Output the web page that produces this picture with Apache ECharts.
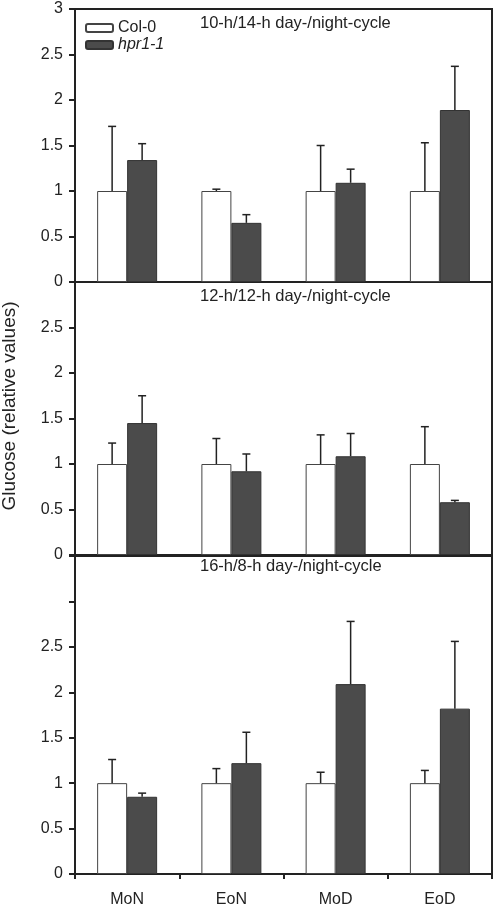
<!DOCTYPE html>
<html>
<head>
<meta charset="utf-8">
<script src="https://cdn.jsdelivr.net/npm/echarts@6/dist/echarts.min.js"></script>
<style>html,body{margin:0;padding:0;background:#fff}#c{width:498px;height:908px}</style>
</head>
<body>
<div id="c"></div>
<script>
// ---- data ----
const categories = ['MoN', 'EoN', 'MoD', 'EoD'];
const seriesNames = ['Col-0', 'hpr1-1'];
const panelTitles = ['10-h/14-h day-/night-cycle', '12-h/12-h day-/night-cycle', '16-h/8-h day-/night-cycle'];
const yTickLabels1 = ['0', '0.5', '1', '1.5', '2', '2.5', '3'];
const yTickLabels2 = ['0', '0.5', '1', '1.5', '2', '2.5'];
const yTickLabels3 = ['0', '0.5', '1', '1.5', '2', '2.5'];

// 10-h/14-h
const col10 = [1, 1, 1, 1];
const col10Err = [0.71, 0.02, 0.50, 0.53];
const hpr10 = [1.34, 0.65, 1.09, 1.89];
const hpr10Err = [0.18, 0.09, 0.15, 0.48];
// 12-h/12-h
const col12 = [1, 1, 1, 1];
const col12Err = [0.23, 0.28, 0.32, 0.41];
const hpr12 = [1.45, 0.92, 1.085, 0.58];
const hpr12Err = [0.30, 0.19, 0.25, 0.02];
// 16-h/8-h
const col16 = [1, 1, 1, 1];
const col16Err = [0.26, 0.16, 0.12, 0.14];
const hpr16 = [0.85, 1.22, 2.09, 1.82];
const hpr16Err = [0.04, 0.34, 0.69, 0.74];

// ---- layout ----
const FONT = '"Liberation Sans", Arial, Helvetica, sans-serif';
const TXT = '#222';
const panels = [
  {col: col10, colErr: col10Err, hpr: hpr10, hprErr: hpr10Err, labels: yTickLabels1, top: 9, height: 273, max: 3, titleY: 24},
  {col: col12, colErr: col12Err, hpr: hpr12, hprErr: hpr12Err, labels: yTickLabels2, top: 282, height: 273, max: 3, titleY: 297},
  {col: col16, colErr: col16Err, hpr: hpr16, hprErr: hpr16Err, labels: yTickLabels3, top: 556, height: 319, max: 3.5, titleY: 567}
];

function errRender(off) {
  return function (params, api) {
    const p0 = api.coord([api.value(0), api.value(1)]);
    const p1 = api.coord([api.value(0), api.value(2)]);
    const x = p0[0] + off;
    const st = {stroke: '#222', lineWidth: 1.5};
    return {type: 'group', children: [
      {type: 'line', shape: {x1: x, y1: p0[1], x2: x, y2: p1[1]}, style: st},
      {type: 'line', shape: {x1: x - 4, y1: p1[1], x2: x + 4, y2: p1[1]}, style: st}
    ]};
  };
}

const grid = [], xAxis = [], yAxis = [], series = [], graphic = [];
panels.forEach((p, k) => {
  const last = k === panels.length - 1;
  grid.push({left: 75, right: 6, top: p.top, height: p.height, show: true, borderColor: '#222', borderWidth: 2, backgroundColor: 'transparent'});
  xAxis.push({
    type: 'category', gridIndex: k, data: categories,
    axisLine: {lineStyle: {color: '#222', width: 2}},
    axisTick: {show: last, length: 5, lineStyle: {color: '#222', width: 2}},
    axisLabel: {show: last, color: TXT, fontSize: 16, fontFamily: FONT, margin: 18}
  });
  const labs = p.labels;
  yAxis.push({
    type: 'value', gridIndex: k, min: 0, max: p.max, interval: 0.5,
    splitLine: {show: false},
    axisLine: {show: true, lineStyle: {color: '#222', width: 2}},
    axisTick: {show: true, length: 6, lineStyle: {color: '#222', width: 2}},
    axisLabel: {color: TXT, fontSize: 16, fontFamily: FONT, margin: 12,
      formatter: function (v) { const s = String(v); return labs.indexOf(s) >= 0 ? s : ''; }}
  });
  series.push({
    type: 'bar', name: seriesNames[0], xAxisIndex: k, yAxisIndex: k, data: p.col,
    barWidth: 30, barGap: '0%', silent: true,
    itemStyle: {color: '#ffffff', borderColor: '#444', borderWidth: 1}
  });
  series.push({
    type: 'bar', name: seriesNames[1], xAxisIndex: k, yAxisIndex: k, data: p.hpr,
    barWidth: 30, barGap: '0%', silent: true,
    itemStyle: {color: '#4b4b4b', borderColor: '#333', borderWidth: 1}
  });
  series.push({
    type: 'custom', name: 'errA' + k, xAxisIndex: k, yAxisIndex: k, silent: true, z: 5,
    renderItem: errRender(-15), encode: {x: 0, y: [1, 2]},
    data: p.col.map((v, i) => [i, v, v + p.colErr[i]])
  });
  series.push({
    type: 'custom', name: 'errB' + k, xAxisIndex: k, yAxisIndex: k, silent: true, z: 5,
    renderItem: errRender(15), encode: {x: 0, y: [1, 2]},
    data: p.hpr.map((v, i) => [i, v, v + p.hprErr[i]])
  });
  graphic.push({
    type: 'text', left: 200, top: p.titleY - 9,
    style: {text: panelTitles[k], fill: TXT, font: '16.5px ' + FONT}
  });
});

graphic.push({
  type: 'text', x: 10, y: 406, rotation: Math.PI / 2,
  style: {text: 'Glucose (relative values)', fill: TXT, font: '19px ' + FONT, align: 'center', verticalAlign: 'middle'}
});

const chart = echarts.init(document.getElementById('c'), null, {renderer: 'canvas'});
chart.setOption({
  animation: false,
  backgroundColor: '#fff',
  grid: grid, xAxis: xAxis, yAxis: yAxis, series: series, graphic: graphic,
  legend: {
    data: seriesNames, orient: 'vertical', left: 80, top: 15,
    itemWidth: 27, itemHeight: 8, itemGap: 1, selectedMode: false,
    textStyle: {color: TXT, fontSize: 16, fontFamily: FONT,
      rich: {i: {fontStyle: 'italic', fontSize: 16, fontFamily: FONT, color: TXT}}},
    formatter: function (n) { return n === 'hpr1-1' ? '{i|hpr1-1}' : n; }
  }
});
</script>
</body>
</html>
